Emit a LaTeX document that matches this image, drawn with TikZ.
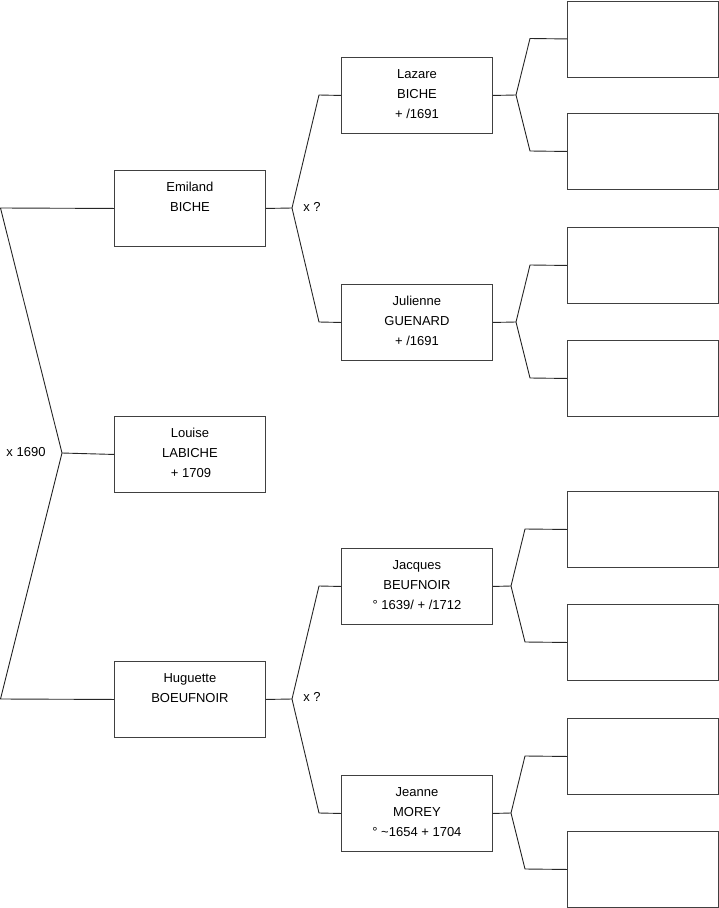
\documentclass[tikz,border=0pt]{standalone}
\usepackage{fontspec}
\setmainfont{Liberation Sans}
\begin{document}
\begin{tikzpicture}[x=1pt,y=-1pt,
 box/.style={draw=black!75, line width=0.9pt, minimum width=151pt, minimum height=76pt, inner sep=0pt, anchor=north west},
 txt/.style={anchor=north, inner sep=0pt, align=center, font=\fontsize{13}{20}\selectfont},
 lnk/.style={draw=black!85, line width=0.9pt},
 lbl/.style={inner sep=0pt, font=\fontsize{13}{15}\selectfont}]
\useasboundingbox (0,0) rectangle (719,908);
% generation 1
\node[box] (emiland) at (114,170) {};
\node[box] (louise) at (114,416) {};
\node[box] (huguette) at (114,661) {};
% generation 2
\node[box] (lazare) at (341,57) {};
\node[box] (julienne) at (341,284) {};
\node[box] (jacques) at (341,548) {};
\node[box] (jeanne) at (341,775) {};
% generation 3 (empty)
\node[box] (b1) at (567,0.5) {};
\node[box] (b2) at (567,113) {};
\node[box] (b3) at (567,227) {};
\node[box] (b4) at (567,340) {};
\node[box] (b5) at (567,491) {};
\node[box] (b6) at (567,604) {};
\node[box] (b7) at (567,718) {};
\node[box] (b8) at (567,831) {};
% texts
\node[txt] (temiland) at ([yshift=-12pt]emiland.north) {Emiland\\BICHE};
\node[txt] (tlouise) at ([yshift=-12pt]louise.north) {Louise\\LABICHE\\\hspace*{2pt}+ 1709};
\node[txt] (thuguette) at ([yshift=-12pt]huguette.north) {Huguette\\BOEUFNOIR};
\node[txt] (tlazare) at ([yshift=-12pt]lazare.north) {Lazare\\BICHE\\+ /1691};
\node[txt] (tjulienne) at ([yshift=-12pt]julienne.north) {Julienne\\GUENARD\\+ /1691};
\node[txt] (tjacques) at ([yshift=-12pt]jacques.north) {Jacques\\BEUFNOIR\\° 1639/ + /1712};
\node[txt] (tjeanne) at ([yshift=-12pt]jeanne.north) {Jeanne\\MOREY\\° \textasciitilde1654 + 1704};
% labels
\node[lbl] (m0) at (26,452) {x 1690};
\node[lbl] (m1) at (312,207) {x ?};
\node[lbl] (m2) at (312,697) {x ?};
% left bracket
\coordinate (lt) at (0.5,208);
\coordinate (lm) at (62,453);
\coordinate (lb) at (0.5,699);
\draw[lnk] (emiland.west) -- (lt) -- (lm) -- (lb) -- (huguette.west);
\draw[lnk] (lm) -- (louise.west);
% Emiland parents
\coordinate (j1) at (292,208);
\coordinate (e1) at (319,95);
\coordinate (e2) at (319,322);
\draw[lnk] (emiland.east) -- (j1);
\draw[lnk] (lazare.west) -- (e1) -- (j1) -- (e2) -- (julienne.west);
% Huguette parents
\coordinate (j2) at (292,699);
\coordinate (e3) at (319,586);
\coordinate (e4) at (319,813);
\draw[lnk] (huguette.east) -- (j2);
\draw[lnk] (jacques.west) -- (e3) -- (j2) -- (e4) -- (jeanne.west);
% Lazare parents
\coordinate (j3) at (516,95);
\coordinate (e5) at (530,38.5);
\coordinate (e6) at (530,151);
\draw[lnk] (lazare.east) -- (j3);
\draw[lnk] (b1.west) -- (e5) -- (j3) -- (e6) -- (b2.west);
% Julienne parents
\coordinate (j4) at (516,322);
\coordinate (e7) at (530,265);
\coordinate (e8) at (530,378);
\draw[lnk] (julienne.east) -- (j4);
\draw[lnk] (b3.west) -- (e7) -- (j4) -- (e8) -- (b4.west);
% Jacques parents
\coordinate (j5) at (511,586);
\coordinate (e9) at (525,529);
\coordinate (e10) at (525,642);
\draw[lnk] (jacques.east) -- (j5);
\draw[lnk] (b5.west) -- (e9) -- (j5) -- (e10) -- (b6.west);
% Jeanne parents
\coordinate (j6) at (511,813);
\coordinate (e11) at (525,756);
\coordinate (e12) at (525,869);
\draw[lnk] (jeanne.east) -- (j6);
\draw[lnk] (b7.west) -- (e11) -- (j6) -- (e12) -- (b8.west);
\end{tikzpicture}
\end{document}
